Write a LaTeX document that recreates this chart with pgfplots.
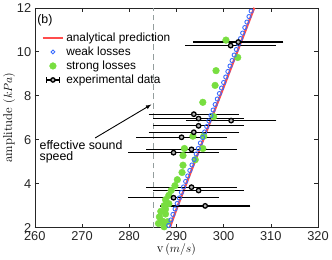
\documentclass[border=0pt]{standalone}
\usepackage{pgfplots}
\pgfplotsset{compat=1.18}
\usepackage{fontspec}
\newfontfamily\hel{Liberation Sans}
\definecolor{predred}{rgb}{1,0.3,0.3}
\definecolor{weakblue}{rgb}{0.22,0.42,1}
\definecolor{stronggreen}{rgb}{0.47,0.87,0.25}
\definecolor{axgray}{rgb}{0.15,0.15,0.15}
\definecolor{dashgray}{rgb}{0.58,0.62,0.62}

\pgfplotstableread{
v a
288.6 2
290.3 3
292.1 4
293.9 5
295.7 6
297.5 7
299.3 8
301.1 9
302.9 10
304.7 11
306.5 12
}\analytical

\pgfplotstableread{
v a
288.38 2.10
288.83 2.35
289.27 2.60
289.72 2.85
290.17 3.10
290.62 3.35
291.06 3.60
291.51 3.85
291.96 4.10
292.41 4.35
292.85 4.60
293.30 4.85
293.75 5.10
294.20 5.35
294.64 5.60
295.09 5.85
295.54 6.10
295.99 6.35
296.43 6.60
296.88 6.85
297.33 7.10
297.78 7.35
298.22 7.60
298.67 7.85
299.12 8.10
299.57 8.35
300.01 8.60
300.46 8.85
300.91 9.10
301.36 9.35
301.80 9.60
302.25 9.85
302.70 10.10
303.15 10.35
303.59 10.60
304.04 10.85
304.49 11.10
304.94 11.35
305.38 11.60
305.83 11.85
}\weak

\pgfplotstableread{
v a
287.4 2.04
286.2 2.19
288.1 2.27
287.0 2.30
286.4 2.49
287.7 2.62
286.7 2.74
287.7 2.84
287.4 3.00
288.4 3.09
287.7 3.27
288.4 3.47
288.9 3.69
289.7 3.91
290.2 4.18
291.2 4.51
291.4 4.84
294.0 5.09
291.4 5.28
291.7 5.60
295.6 5.60
293.5 6.16
295.8 6.16
297.9 7.05
295.6 7.70
298.2 8.47
298.4 9.14
303.0 9.74
300.5 10.53
}\strong

\pgfplotstableread{
v a e
303.1 10.44 9
301.5 10.28 9
293.7 7.16 9
294.7 6.96 9
301.6 6.87 9
294.7 6.63 9
293.7 6.34 9
291.1 6.11 9
293.2 5.56 9
289.4 5.41 9
293.2 3.84 9
294.7 3.69 9
289.4 3.36 9
296.1 2.99 9
}\experiment

\begin{document}
\begin{tikzpicture}
\begin{axis}[
  scale only axis, width=286bp, height=222bp,
  xmin=260, xmax=320, ymin=2, ymax=12,
  xtick={260,270,...,320}, ytick={2,4,...,12},
  tick align=inside, tick pos=both,
  major tick length=4pt,
  axis line style={axgray, line width=0.5pt},
  every tick/.style={axgray, line width=0.5pt},
  /pgf/number format/assume math mode=true,
  ticklabel style={font=\hel\fontsize{13}{15}\selectfont, text=axgray},
  label style={font=\fontsize{13}{15}\selectfont},
  xlabel={v$\,(m/s)$}, ylabel={amplitude $(kPa)$},
  xlabel style={yshift=3pt},
  ylabel style={yshift=-5pt},
  legend style={at={(0.02,0.9)}, anchor=north west, draw=none, fill=none,
    font=\hel\fontsize{12}{13.5}\selectfont, row sep=0pt, inner sep=1pt},
  legend cell align=left,
  clip=true,
]
\addlegendimage{legend image code/.code={\draw[predred, line width=2pt] (0pt,0pt) -- (21pt,0pt);}}
\addlegendentry{analytical prediction}
\addlegendimage{legend image code/.code={\draw[weakblue, line width=0.9pt] (10.5pt,0pt) circle (2pt);}}
\addlegendentry{weak losses}
\addlegendimage{legend image code/.code={\fill[stronggreen] (10.5pt,0pt) circle (3.4pt);}}
\addlegendentry{strong losses}
\addlegendimage{legend image code/.code={
  \draw[black, line width=1.4pt] (4pt,0pt) -- (17pt,0pt);
  \draw[black, line width=1.4pt] (4pt,-2.8pt) -- (4pt,2.8pt);
  \draw[black, line width=1.4pt] (17pt,-2.8pt) -- (17pt,2.8pt);
  \draw[black, line width=1.3pt, fill=gray!60] (10.5pt,0pt) circle (2.2pt);}}
\addlegendentry{experimental data}

% effective sound speed
\addplot[forget plot, dashgray, line width=1.5pt, dash pattern=on 6pt off 4pt] coordinates {(285.2,2) (285.2,12)};

\addplot[forget plot, only marks, mark=*, mark size=3.4pt, color=stronggreen, mark options={draw=none, fill=stronggreen}] table[x=v, y=a] {\strong};
\addplot[forget plot, only marks, mark=o, mark size=2.1pt, color=weakblue, mark options={line width=0.9pt}] table[x=v, y=a] {\weak};
\addplot[forget plot, predred, line width=2.2pt] table[x=v, y=a] {\analytical};
% error bars only
\addplot[forget plot, draw=none, mark=none, black,
  error bars/.cd, x dir=both, x explicit,
  error bar style={line width=1.3pt, black},
  error mark options={mark size=2.8pt, line width=1.3pt, black}]
  table[x=v, y=a, x error=e] {\experiment};
% circles
\addplot[forget plot, only marks, mark=*, mark size=2.3pt, mark options={draw=black, fill=gray!60, line width=1.3pt}]
  table[x=v, y=a] {\experiment};

\node[anchor=north west, font=\hel\fontsize{12.5}{14}\selectfont, inner sep=1pt] at (rel axis cs:0.005,0.975) {(b)};
\node[anchor=north west, align=left, font=\hel\fontsize{12.5}{11}\selectfont, inner sep=0pt] at (axis cs:261.0,5.95) {effective sound\\speed};
\draw[-latex, black, line width=0.9pt] (axis cs:272.8,6.08) -- (axis cs:284.7,7.6);
\end{axis}
\end{tikzpicture}
\end{document}
